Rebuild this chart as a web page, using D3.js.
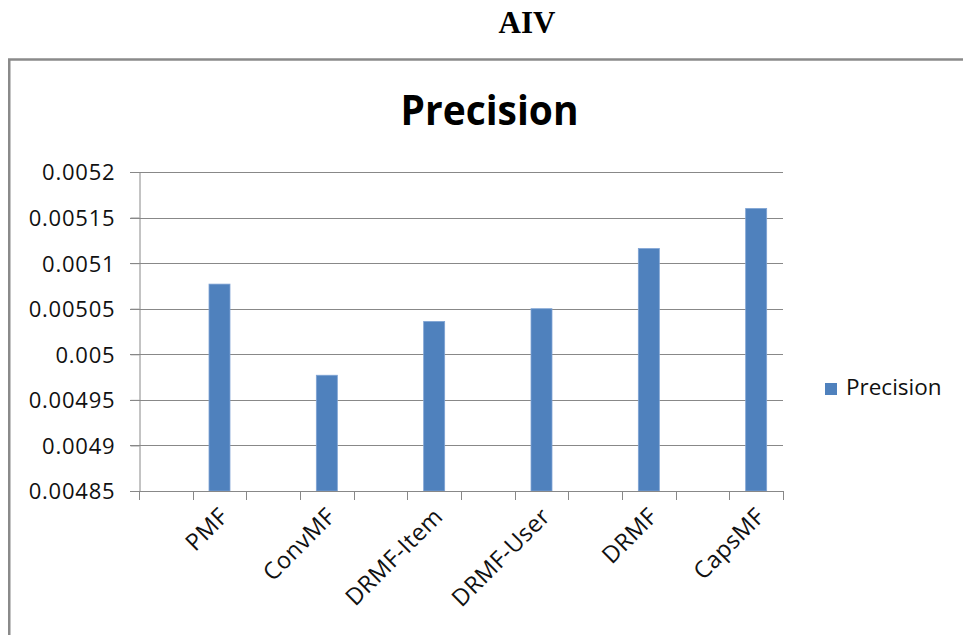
<!DOCTYPE html>
<html>
<head>
<meta charset="utf-8">
<script src="https://cdn.jsdelivr.net/npm/d3@7/dist/d3.min.js"></script>
<style>
  html, body { margin: 0; padding: 0; background: #fff; }
  svg { display: block; }
</style>
</head>
<body>
<script>
// Excel chart had blank category rows between the methods
const categories = ["", "PMF", "", "ConvMF", "", "DRMF-Item", "", "DRMF-User", "", "DRMF", "", "CapsMF"];
const precision = [null, 0.005077, null, 0.004977, null, 0.005036, null, 0.00505, null, 0.005116, null, 0.00516];
const yTicks = [0.00485, 0.0049, 0.00495, 0.005, 0.00505, 0.0051, 0.00515, 0.0052];
const yTickLabels = ["0.00485", "0.0049", "0.00495", "0.005", "0.00505", "0.0051", "0.00515", "0.0052"];
const seriesName = "Precision";
const chartTitle = "Precision";
const pageTitle = "AIV";

const W = 963, H = 635;
const svg = d3.select("body").append("svg").attr("width", W).attr("height", H);

// page heading
svg.append("text")
  .attr("x", 527).attr("y", 33)
  .attr("text-anchor", "middle")
  .attr("font-family", "'Liberation Serif', 'Times New Roman', serif")
  .attr("font-weight", "bold")
  .attr("font-size", 31)
  .attr("fill", "#000")
  .text(pageTitle);

// chart frame
svg.append("rect")
  .attr("x", 9.25).attr("y", 59.5)
  .attr("width", 1000).attr("height", 700)
  .attr("fill", "#fff")
  .attr("stroke", "#8a8a8a")
  .attr("stroke-width", 2.5);

// chart title
svg.append("text")
  .attr("x", 489.5).attr("y", 125)
  .attr("text-anchor", "middle")
  .attr("font-family", "'Open Sans', 'Liberation Sans', sans-serif")
  .attr("font-weight", "bold")
  .attr("font-size", 42)
  .attr("textLength", 178)
  .attr("lengthAdjust", "spacingAndGlyphs")
  .attr("fill", "#000")
  .text(chartTitle);

const pL = 139, pR = 783, pT = 172, pB = 491;

const x = d3.scaleBand().domain(d3.range(categories.length)).range([pL, pR]).paddingInner(0).paddingOuter(0);
const y = d3.scaleLinear().domain([0.00485, 0.0052]).range([pB, pT]);

const gridColor = "#888888";
const fontTick = "'Open Sans', 'Liberation Sans', sans-serif";

// gridlines
svg.append("g")
  .selectAll("line")
  .data(yTicks)
  .join("line")
  .attr("x1", pL - 9).attr("x2", pR)
  .attr("y1", d => Math.round(y(d)) + 0.5).attr("y2", d => Math.round(y(d)) + 0.5)
  .attr("stroke", gridColor).attr("stroke-width", 1);

// y axis
const yAxis = d3.axisLeft(y).tickValues(yTicks).tickSize(9).tickPadding(15)
  .tickFormat((d, i) => yTickLabels[i]);
const gy = svg.append("g").attr("transform", `translate(${pL + 0.5},0)`).call(yAxis);
gy.select(".domain").attr("stroke", gridColor);
gy.selectAll(".tick line").attr("stroke", gridColor);
gy.selectAll(".tick text")
  .attr("font-family", fontTick).attr("font-size", 22)
  .attr("letter-spacing", 0.8)
  .attr("fill", "#111")
  .attr("dy", "0.36em");

// bars
svg.append("g")
  .selectAll("rect")
  .data(precision.map((v, i) => ({ v, i })).filter(d => d.v !== null))
  .join("rect")
  .attr("x", d => x(d.i) + (x.bandwidth() - 21) / 2)
  .attr("width", 21)
  .attr("y", d => y(d.v))
  .attr("height", d => pB - y(d.v))
  .attr("fill", "#4f81bd")
  .attr("stroke", "#7fa3d4")
  .attr("stroke-width", 0.8);

// x axis line + boundary ticks
const gx = svg.append("g");
gx.append("line")
  .attr("x1", pL).attr("x2", pR)
  .attr("y1", pB + 0.5).attr("y2", pB + 0.5)
  .attr("stroke", gridColor);
const bounds = d3.range(categories.length + 1).map(i => i === categories.length ? pR : x(i));
gx.selectAll("line.tk")
  .data(bounds)
  .join("line").attr("class", "tk")
  .attr("x1", d => Math.round(d) + 0.5).attr("x2", d => Math.round(d) + 0.5)
  .attr("y1", pB).attr("y2", pB + 9)
  .attr("stroke", gridColor);

// x labels (rotated)
gx.selectAll("text")
  .data(categories.map((c, i) => ({ c, i })).filter(d => d.c !== ""))
  .join("text")
  .attr("transform", d => `translate(${x(d.i) + x.bandwidth() / 2 + 10},${pB + 27}) rotate(-45)`)
  .attr("text-anchor", "end")
  .attr("font-family", fontTick)
  .attr("font-size", 23.5)
  .attr("letter-spacing", 0.4)
  .attr("fill", "#111")
  .text(d => d.c);

// legend
const lg = svg.append("g").attr("transform", "translate(825,383)");
lg.append("rect").attr("width", 12).attr("height", 12).attr("fill", "#4f81bd");
lg.append("text")
  .attr("x", 21).attr("y", 12)
  .attr("font-family", fontTick).attr("font-size", 22.5)
  .attr("fill", "#111")
  .text(seriesName);
</script>
</body>
</html>
